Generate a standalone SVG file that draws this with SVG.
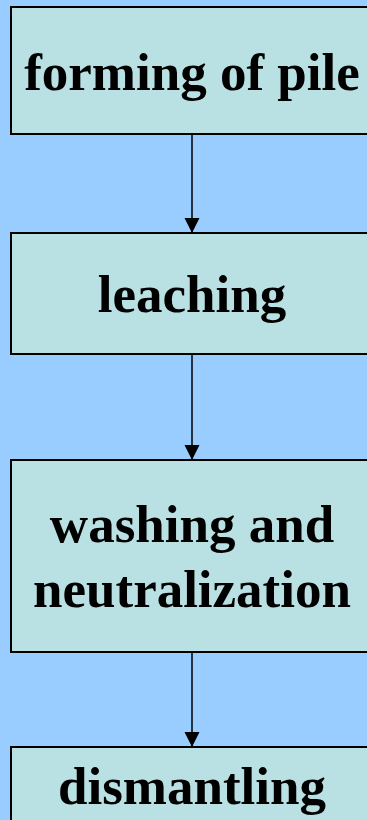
<svg xmlns="http://www.w3.org/2000/svg" width="367" height="820" viewBox="0 0 367 820">
<style>
.box{fill:#B9E0E3;stroke:#000;stroke-width:2}
.lbl{font-family:"Liberation Serif","Times New Roman",serif;font-weight:bold;font-size:53px;fill:#000;text-anchor:middle}
.con{stroke:#000;stroke-width:1.5;fill:none}
</style>
<defs>
<marker id="ah" markerUnits="userSpaceOnUse" markerWidth="16" markerHeight="16" refX="15" refY="7.5" orient="auto">
<path d="M0,0 L15,7.5 L0,15 Z" fill="#000"/>
</marker>
</defs>
<rect width="367" height="820" fill="#99CCFF"/>
<g id="connectors">
<line class="con" x1="192" y1="134" x2="192" y2="233" marker-end="url(#ah)"/>
<line class="con" x1="192" y1="354" x2="192" y2="460" marker-end="url(#ah)"/>
<line class="con" x1="192" y1="652" x2="192" y2="747" marker-end="url(#ah)"/>
</g>
<g id="n1">
<rect class="box" x="11" y="7" width="362" height="127"/>
<text class="lbl" x="192" y="90">forming of pile</text>
</g>
<g id="n2">
<rect class="box" x="11" y="233" width="362" height="121"/>
<text class="lbl" x="192" y="312">leaching</text>
</g>
<g id="n3">
<rect class="box" x="11" y="460" width="362" height="192"/>
<text class="lbl" x="192" y="542">washing and</text>
<text class="lbl" x="192" y="607">neutralization</text>
</g>
<g id="n4">
<rect class="box" x="11" y="747" width="362" height="90"/>
<text class="lbl" x="192" y="804">dismantling</text>
</g>
</svg>
